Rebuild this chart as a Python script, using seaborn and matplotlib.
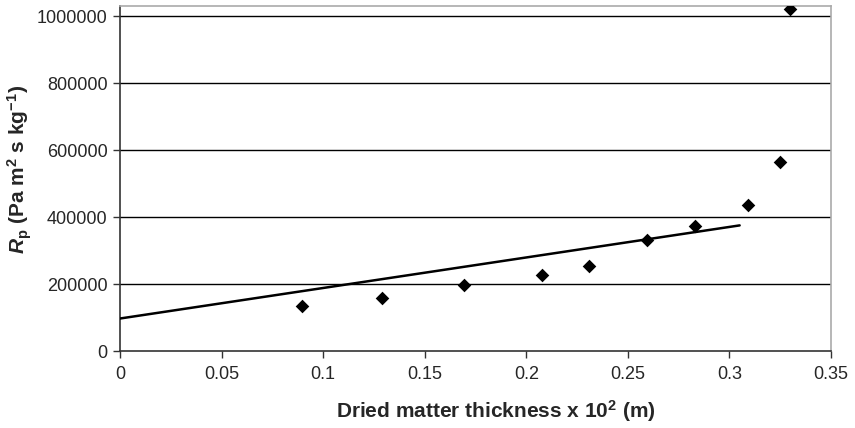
import matplotlib
matplotlib.use("Agg")
import matplotlib.pyplot as plt
import seaborn as sns
import pandas as pd

thickness = [0.0895, 0.129, 0.1694, 0.2076, 0.231, 0.2596, 0.283, 0.309, 0.325, 0.330]
rp = [135000, 157000, 197000, 227000, 255000, 332000, 373000, 436000, 565000, 1021000]
trend_x = [0.0, 0.305]
trend_y = [97000, 375000]
x_ticks = [0, 0.05, 0.1, 0.15, 0.2, 0.25, 0.3, 0.35]
x_tick_labels = ["0", "0.05", "0.1", "0.15", "0.2", "0.25", "0.3", "0.35"]
y_ticks = [0, 200000, 400000, 600000, 800000, 1000000]
y_tick_labels = ["0", "200000", "400000", "600000", "800000", "1000000"]

sns.set_theme(style="white")
plt.rcParams['font.family'] = ['Liberation Sans', 'DejaVu Sans']
plt.rcParams['mathtext.fontset'] = 'custom'
plt.rcParams['mathtext.rm'] = 'Liberation Sans:bold'
plt.rcParams['mathtext.it'] = 'Liberation Sans:bold:italic'
plt.rcParams['mathtext.bf'] = 'Liberation Sans:bold'

fig = plt.figure(figsize=(8.55, 4.28), dpi=100)
ax = fig.add_axes([0.1404, 0.1799, 0.972 - 0.1404, 0.986 - 0.1799])

df = pd.DataFrame({"x": thickness, "y": rp})
tr = pd.DataFrame({"x": trend_x, "y": trend_y})

for yv in y_ticks[1:]:
    ax.axhline(yv, color="black", lw=1.0, zorder=1)

sns.lineplot(data=tr, x="x", y="y", ax=ax, color="black", lw=1.8, zorder=3)
sns.scatterplot(data=df, x="x", y="y", ax=ax, marker="D", s=48, color="black",
                linewidth=0, zorder=4)

ax.set_xlim(0, 0.35)
ax.set_ylim(0, 1030000)
ax.set_xticks(x_ticks)
ax.set_xticklabels(x_tick_labels, fontsize=13)
ax.set_yticks(y_ticks)
ax.set_yticklabels(y_tick_labels, fontsize=13)
ax.tick_params(axis="both", which="both", direction="out", length=5, width=1,
               color="#333333", bottom=True, left=True)
ax.tick_params(axis="x", pad=6)
ax.tick_params(axis="y", pad=4)

for side in ["left", "bottom"]:
    ax.spines[side].set_color("#333333")
    ax.spines[side].set_linewidth(1.2)
for side in ["top", "right"]:
    ax.spines[side].set_color("#aaaaaa")
    ax.spines[side].set_linewidth(1.2)

ax.set_xlabel(r"Dried matter thickness x 10$^{\mathbf{2}}$ (m)", fontsize=15,
              fontweight="bold", labelpad=11)
ax.xaxis.label.set_x(0.528)
ax.set_ylabel(r"$R_{\mathrm{p}}$ (Pa m$^{\mathrm{2}}$ s kg$^{\mathrm{-1}}$)", fontsize=15,
              fontweight="bold", labelpad=2)
ax.yaxis.label.set_y(0.525)

fig.savefig("out.png", dpi=100)
